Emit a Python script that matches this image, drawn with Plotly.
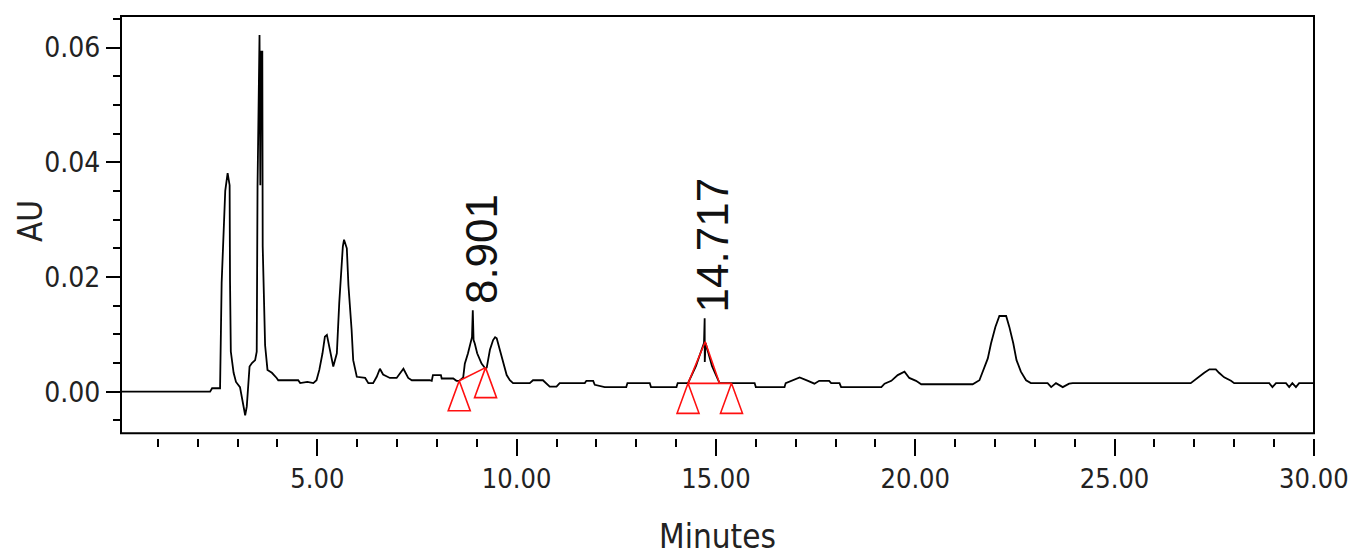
import plotly.graph_objects as go

# Chromatogram trace (minutes, AU)
time_min = [0.075, 2.31, 2.36, 2.56, 2.60, 2.69, 2.75, 2.80, 2.81, 2.83, 2.90, 2.96, 3.06, 3.10, 3.15,
            3.19, 3.23, 3.27, 3.30, 3.36, 3.44, 3.48, 3.50, 3.55, 3.57, 3.59, 3.62, 3.63, 3.69, 3.75,
            3.86, 3.98, 4.02, 4.52, 4.57, 4.75, 4.90, 4.98, 5.05, 5.13, 5.19, 5.24, 5.32, 5.40, 5.49,
            5.55, 5.64, 5.67, 5.74, 5.78, 5.86, 5.90, 5.99, 6.20, 6.28, 6.40, 6.49, 6.57, 6.65, 6.82,
            6.99, 7.16, 7.28, 7.37, 7.82, 7.87, 7.90, 8.10, 8.12, 8.41, 8.49, 8.56, 8.66, 8.70, 8.78,
            8.84, 8.88, 8.90, 8.92, 8.95, 9.01, 9.12, 9.22, 9.25, 9.33, 9.41, 9.46, 9.50, 9.58, 9.66,
            9.75, 9.83, 9.91, 10.33, 10.41, 10.66, 10.75, 10.83, 11.00, 11.08, 11.71, 11.75, 11.92, 11.96,
            12.21, 12.75, 12.78, 13.34, 13.37, 14.01, 14.04, 14.30, 14.50, 14.70, 14.717, 14.72, 14.74,
            14.90, 15.09, 15.97, 16.00, 16.72, 16.75, 16.89, 17.10, 17.31, 17.47, 17.59, 17.84, 17.89,
            18.10, 18.14, 19.15, 19.23, 19.40, 19.56, 19.73, 19.85, 20.02, 20.15, 21.44, 21.61, 21.69,
            21.82, 21.90, 22.01, 22.11, 22.28, 22.36, 22.46, 22.54, 22.65, 22.78, 22.90, 23.32, 23.41,
            23.53, 23.70, 23.86, 23.95, 26.91, 27.00, 27.13, 27.25, 27.38, 27.54, 27.62, 27.75, 27.92,
            28.00, 28.88, 28.96, 29.05, 29.30, 29.38, 29.46, 29.55, 29.63, 30.00]
absorbance = [0.0, 0.0, 0.0006, 0.0006, 0.019, 0.035, 0.0381, 0.036, 0.0193, 0.007, 0.0033, 0.0017, 0.0008,
              -0.0009, -0.0026, -0.0041, -0.0026, 0.0017, 0.0044, 0.0050, 0.0055, 0.0070, 0.0357, 0.0622,
              0.0360, 0.0593, 0.0593, 0.0253, 0.0081, 0.0038, 0.0033, 0.0024, 0.0020, 0.0020, 0.0015,
              0.0017, 0.0015, 0.0020, 0.0038, 0.0067, 0.0096, 0.0099, 0.0070, 0.0044, 0.0067, 0.0155,
              0.0253, 0.0265, 0.0250, 0.0186, 0.0108, 0.0055, 0.0026, 0.0024, 0.0015, 0.0015, 0.0026,
              0.0040, 0.0030, 0.0024, 0.0024, 0.0040, 0.0024, 0.0020, 0.0020, 0.0019, 0.0029, 0.0029,
              0.0023, 0.0023, 0.0019, 0.0019, 0.0025, 0.0049, 0.0067, 0.0084, 0.0095, 0.0142, 0.0090,
              0.0084, 0.0067, 0.0049, 0.0040, 0.0042, 0.0073, 0.0090, 0.0095, 0.0093, 0.0073, 0.0049,
              0.0029, 0.0020, 0.0015, 0.0015, 0.0020, 0.0020, 0.0015, 0.0009, 0.0009, 0.0015, 0.0015,
              0.0019, 0.0019, 0.0012, 0.0008, 0.0008, 0.0015, 0.0015, 0.0008, 0.0008, 0.0015, 0.0015,
              0.0045, 0.0085, 0.0128, 0.0052, 0.0085, 0.0045, 0.0015, 0.0015, 0.0008, 0.0008, 0.0015,
              0.0019, 0.0025, 0.0019, 0.0014, 0.0019, 0.0019, 0.0015, 0.0015, 0.0008, 0.0008, 0.0014,
              0.0019, 0.0029, 0.0035, 0.0024, 0.0019, 0.0013, 0.0013, 0.0020, 0.0035, 0.0058, 0.0084,
              0.0113, 0.0132, 0.0132, 0.0113, 0.0084, 0.0055, 0.0035, 0.0020, 0.0015, 0.0015, 0.0008,
              0.0015, 0.0008, 0.0014, 0.0015, 0.0015, 0.0020, 0.0027, 0.0033, 0.0039, 0.0039, 0.0033,
              0.0025, 0.0019, 0.0015, 0.0015, 0.0008, 0.0015, 0.0015, 0.0008, 0.0015, 0.0008, 0.0015,
              0.0015]

# Integrated peaks
peak_rt = [8.901, 14.717]
peak_top = [0.0142, 0.0128]
peak_start_t = [8.56, 14.30]
peak_start_v = [0.0019, 0.00146]
peak_end_t = [9.22, 15.39]
peak_end_v = [0.0042, 0.00146]
apex_marker_t = [14.73]
apex_marker_v = [0.0087]
apex_base_right_t = [15.09]

x_range = [0.075, 30.003]
y_range = [-0.00725, 0.0655]
x_tickvals = [5, 10, 15, 20, 25, 30]
x_ticktext = ["5.00", "10.00", "15.00", "20.00", "25.00", "30.00"]

# style constants (pixel sizes converted to data units)
PX_PER_MIN = 39.87
PX_PER_AU = 5735.0
tri_h = 30 / PX_PER_AU
tri_hw = 11 / PX_PER_MIN

RED = "#ff1010"
NARROW = "Liberation Sans Narrow, Arial Narrow, DejaVu Sans Condensed, sans-serif"

fig = go.Figure()
fig.add_trace(go.Scatter(x=time_min, y=absorbance, mode="lines",
                         line=dict(color="black", width=1.8), hoverinfo="skip"))

# baselines of integrated peaks
bx, by = [], []
for s_t, s_v, e_t, e_v in zip(peak_start_t, peak_start_v, peak_end_t, peak_end_v):
    bx += [s_t, e_t, None]
    by += [s_v, e_v, None]
# hanging triangles at start / end points
for t, v in list(zip(peak_start_t, peak_start_v)) + list(zip(peak_end_t, peak_end_v)):
    bx += [t, t - tri_hw, t + tri_hw, t, None]
    by += [v, v - tri_h, v - tri_h, v, None]
# apex triangle
for a_t, a_v, s_t, s_v, r_t in zip(apex_marker_t, apex_marker_v, [peak_start_t[1]], [peak_start_v[1]], apex_base_right_t):
    bx += [s_t, a_t, r_t, None]
    by += [s_v, a_v, s_v, None]
fig.add_trace(go.Scatter(x=bx, y=by, mode="lines", line=dict(color=RED, width=1.6),
                         hoverinfo="skip"))

for rt, top in zip(peak_rt, peak_top):
    fig.add_annotation(x=rt, y=top, xref="x", yref="y", text=f"{rt:.3f}",
                       textangle=-90, showarrow=False, xanchor="center", yanchor="bottom",
                       xshift=8, yshift=4,
                       font=dict(family="Liberation Sans, Arial, sans-serif", size=44, color="#111"))

# y-axis title
fig.add_annotation(x=0, y=0.5, xref="paper", yref="paper", text="AU", textangle=-90,
                   showarrow=False, xanchor="center", yanchor="middle", xshift=-91, yshift=6,
                   font=dict(family=NARROW, size=33, color="#222"))

d = 4.7 / 422.0
fig.add_shape(type="rect", xref="paper", yref="paper", x0=0, x1=1, y0=d, y1=1,
              line=dict(color="black", width=2), layer="above")

fig.update_layout(
    width=1351, height=556,
    margin=dict(l=121, r=37, t=16, b=118),
    paper_bgcolor="white", plot_bgcolor="white",
    showlegend=False,
    xaxis=dict(range=x_range, anchor="free", position=0, showline=False, showgrid=False,
               zeroline=False, ticks="outside", ticklen=17, tickwidth=2, tickcolor="black",
               tickmode="array", tickvals=x_tickvals, ticktext=x_ticktext,
               automargin=False, ticklabeloverflow="allow",
               minor=dict(dtick=1, tick0=0, ticks="outside", ticklen=8, tickwidth=2, tickcolor="black",
                          showgrid=False),
               tickfont=dict(family=NARROW, size=27, color="#222"),
               title=dict(text="Minutes", font=dict(family=NARROW, size=33, color="#222"), standoff=38)),
    yaxis=dict(range=y_range, domain=[d, 1], showline=False, showgrid=False, zeroline=False,
               ticks="outside", ticklen=14, tickwidth=2, tickcolor="black", automargin=False,
               tick0=0, dtick=0.02, tickformat=".2f",
               minor=dict(dtick=0.005, tick0=0, ticks="outside", ticklen=7, tickwidth=2,
                          tickcolor="black", showgrid=False),
               tickfont=dict(family=NARROW, size=28, color="#222")),
)

fig.write_html("out.html")
